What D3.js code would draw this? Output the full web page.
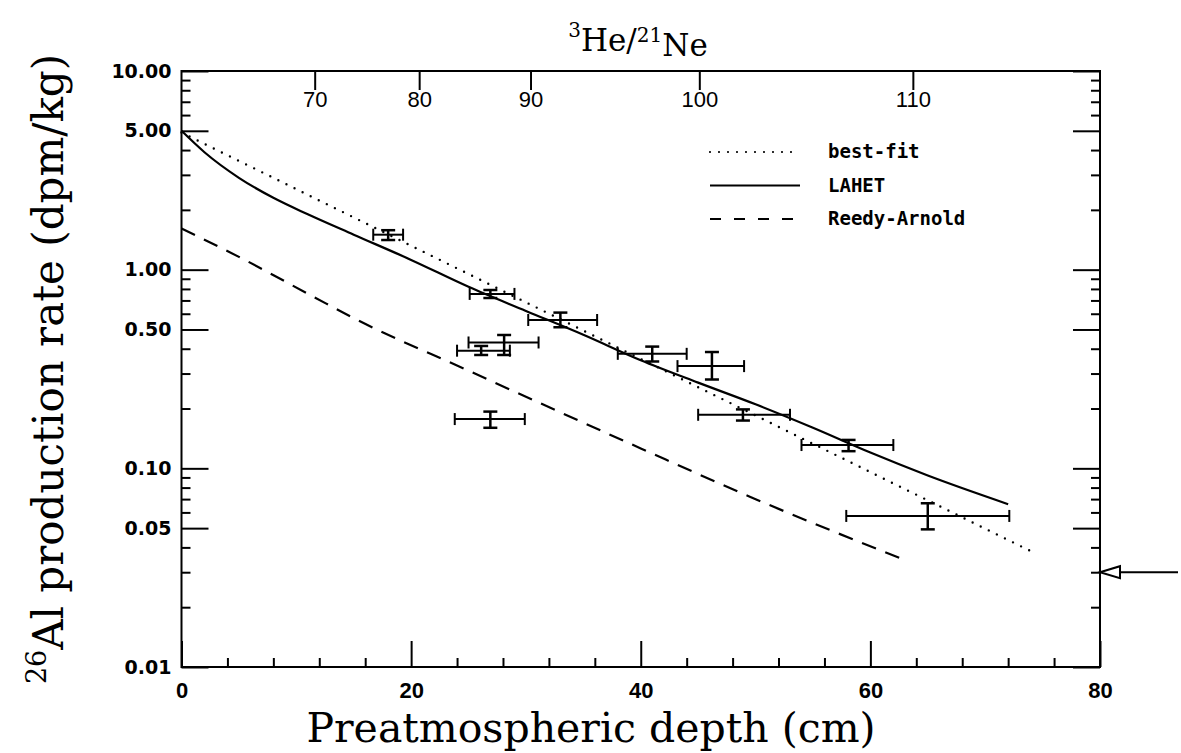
<!DOCTYPE html>
<html>
<head>
<meta charset="utf-8">
<script src="https://cdn.jsdelivr.net/npm/d3@7"></script>
<style>
	body { margin: 0; background: #fff; }
	.tick line { stroke: #000; stroke-width: 2; }
</style>
</head>
<body>
<div id="chart"></div>
<script>
// Measured samples (depth in cm, 26Al rate in dpm/kg)
const sampleDepth   = [18.0, 26.9, 33.0, 28.1, 26.1, 26.9, 41.0, 46.2, 48.9, 58.1, 65.0];
const sampleDepthLo = [16.7, 25.1, 30.2, 25.0, 24.0, 23.8, 38.0, 43.2, 45.0, 54.0, 57.9];
const sampleDepthHi = [19.3, 29.0, 36.2, 31.1, 28.6, 29.9, 44.0, 49.0, 53.0, 62.0, 72.1];
const sampleRate    = [1.50, 0.755, 0.558, 0.43, 0.391, 0.177, 0.377, 0.327, 0.186, 0.131, 0.0576];
const sampleRateLo  = [1.41, 0.72, 0.513, 0.372, 0.372, 0.160, 0.345, 0.28, 0.174, 0.122, 0.0493];
const sampleRateHi  = [1.58, 0.79, 0.608, 0.469, 0.413, 0.193, 0.41, 0.385, 0.198, 0.139, 0.0667];

// Model curves
const bestFitDepth = [0, 74.5];
const bestFitRate  = [4.9, 0.037];
const lahetDepth = [0, 2, 5, 8, 11, 15, 20, 25, 30, 35, 40, 45, 50, 55, 60, 65, 72];
const lahetRate  = [5.0, 3.9, 2.9, 2.3, 1.9, 1.5, 1.12, 0.82, 0.62, 0.47, 0.35, 0.27, 0.21, 0.16, 0.12, 0.092, 0.066];
const reedyDepth = [0, 5, 11.5, 15, 25, 40, 49.5, 63.3];
const reedyRate  = [1.61, 1.16, 0.73, 0.57, 0.31, 0.126, 0.072, 0.034];

// Axes
const depthTicks = [0, 20, 40, 60, 80];
const rateTicks = [0.01, 0.05, 0.1, 0.5, 1, 5, 10];
const heNeTicks = [70, 80, 90, 100, 110];
const heNeDepth = [11.6, 20.7, 30.4, 45.1, 63.7];
const arrowRate = 0.03;

const legendNames = ["best-fit", "LAHET", "Reedy-Arnold"];
const legendDash = ["0,9", null, "15,10"];

// Dimensions and margins
const W = 1181, H = 753;
const margin = {top: 71, right: 81, bottom: 86, left: 181.5};
const width = W - margin.left - margin.right;
const height = H - margin.top - margin.bottom;

const x = d3.scaleLinear().domain([0, 80]).range([0, width]);
const y = d3.scaleLog().domain([0.01, 10]).range([height, 0]);
const xTop = d3.scaleLinear().domain(heNeTicks).range(heNeDepth.map(d => x(d)));

const svg = d3.select("#chart").append("svg")
	.attr("width", W)
	.attr("height", H)
	.append("g")
	.attr("transform", "translate(" + margin.left + "," + margin.top + ")");

const numFont = "'DejaVu Sans', sans-serif";
const serif = "'DejaVu Serif', serif";

// Ticks
const minorRate = y.ticks().filter(d => !rateTicks.some(t => Math.abs(t - d) / t < 1e-6));
const minorDepth = d3.range(4, 80, 4).filter(d => d % 20 != 0);

function styleAxis(g) {
	g.select(".domain").remove();
	g.selectAll("text").style("font-family", numFont).attr("fill", "#000");
}

svg.append("g")
	.call(d3.axisLeft(y).tickValues(rateTicks).tickSizeInner(-27).tickSizeOuter(0)
		.tickPadding(10).tickFormat(d3.format(".2f")))
	.call(styleAxis)
	.selectAll("text").style("font-size", "19px").style("font-weight", "bold");
svg.append("g")
	.call(d3.axisLeft(y).tickValues(minorRate).tickSize(-9).tickFormat(""))
	.call(styleAxis);
svg.append("g")
	.attr("transform", "translate(" + width + ",0)")
	.call(d3.axisRight(y).tickValues(rateTicks).tickSize(-27).tickFormat(""))
	.call(styleAxis);
svg.append("g")
	.attr("transform", "translate(" + width + ",0)")
	.call(d3.axisRight(y).tickValues(minorRate).tickSize(-9).tickFormat(""))
	.call(styleAxis);

svg.append("g")
	.attr("transform", "translate(0," + height + ")")
	.call(d3.axisBottom(x).tickValues(depthTicks).tickSize(-26).tickPadding(15)
		.tickFormat(d3.format("d")))
	.call(styleAxis)
	.selectAll("text").style("font-size", "22px").style("font-weight", "bold")
	.style("font-family", "'Liberation Sans', sans-serif");
svg.append("g")
	.attr("transform", "translate(0," + height + ")")
	.call(d3.axisBottom(x).tickValues(minorDepth).tickSize(-9).tickFormat(""))
	.call(styleAxis);

// top axis: 3He/21Ne
svg.append("g")
	.call(d3.axisBottom(xTop).tickValues(heNeTicks).tickSize(19).tickPadding(1)
		.tickFormat(d3.format("d")))
	.call(styleAxis)
	.selectAll("text").style("font-size", "22px")
	.style("font-family", "'Liberation Sans', sans-serif");

// frame
svg.append("rect")
	.attr("width", width)
	.attr("height", height)
	.attr("fill", "none")
	.attr("stroke", "#000")
	.attr("stroke-width", 2);

// Curves
const line = d3.line()
	.x(d => x(d[0]))
	.y(d => y(d[1]));

const curves = [
	{depth: bestFitDepth, rate: bestFitRate, curve: d3.curveLinear},
	{depth: lahetDepth, rate: lahetRate, curve: d3.curveMonotoneX},
	{depth: reedyDepth, rate: reedyRate, curve: d3.curveMonotoneX}
];
curves.forEach((c, i) => {
	svg.append("path")
		.datum(d3.zip(c.depth, c.rate))
		.attr("fill", "none")
		.attr("stroke", "#000")
		.attr("stroke-width", i == 0 ? 2.4 : 2.2)
		.attr("stroke-linecap", i == 0 ? "round" : "butt")
		.attr("stroke-dasharray", legendDash[i])
		.attr("d", line.curve(c.curve));
});

// Error bars
const capH = 6, capW = 7;
sampleDepth.forEach((d, i) => {
	let g = svg.append("g")
		.attr("stroke", "#000")
		.attr("stroke-width", 2);
	let cy = y(sampleRate[i]), x0 = x(sampleDepthLo[i]), x1 = x(sampleDepthHi[i]);
	let cx = x(d), y0 = y(sampleRateLo[i]), y1 = y(sampleRateHi[i]);
	g.append("line").attr("x1", x0).attr("x2", x1).attr("y1", cy).attr("y2", cy);
	g.append("line").attr("x1", x0).attr("x2", x0).attr("y1", cy - capH).attr("y2", cy + capH);
	g.append("line").attr("x1", x1).attr("x2", x1).attr("y1", cy - capH).attr("y2", cy + capH);
	g.append("line").attr("x1", cx).attr("x2", cx).attr("y1", y0).attr("y2", y1).attr("stroke-width", 2.5);
	g.append("line").attr("x1", cx - capW).attr("x2", cx + capW).attr("y1", y0).attr("y2", y0).attr("stroke-width", 2.5);
	g.append("line").attr("x1", cx - capW).attr("x2", cx + capW).attr("y1", y1).attr("y2", y1).attr("stroke-width", 2.5);
});

// Legend
legendNames.forEach((name, i) => {
	let ly = 81 + i * 33.5;
	svg.append("line")
		.attr("x1", 708 - margin.left + 2)
		.attr("x2", 800 - margin.left)
		.attr("y1", ly)
		.attr("y2", ly)
		.attr("stroke", "#000")
		.attr("stroke-width", i == 0 ? 2.2 : 2)
		.attr("stroke-linecap", i == 0 ? "round" : "butt")
		.attr("stroke-dasharray", i == 2 ? "11,13" : legendDash[i]);
	svg.append("text")
		.attr("x", 828 - margin.left)
		.attr("y", ly + 6)
		.style("font-family", "'DejaVu Sans Mono', monospace")
		.style("font-weight", "bold")
		.style("font-size", "19px")
		.text(name);
});

// Arrow on the right axis
let ya = y(arrowRate);
svg.append("line")
	.attr("x1", width + 18)
	.attr("x2", width + 78)
	.attr("y1", ya)
	.attr("y2", ya)
	.attr("stroke", "#000")
	.attr("stroke-width", 2);
svg.append("path")
	.attr("d", "M" + width + "," + ya + "L" + (width + 20) + "," + (ya - 6) + "L" + (width + 20) + "," + (ya + 6) + "Z")
	.attr("fill", "#fff")
	.attr("stroke", "#000")
	.attr("stroke-width", 2);

// Titles
let topTitle = svg.append("text")
	.attr("x", 638 - margin.left)
	.attr("y", 46 - margin.top)
	.style("text-anchor", "middle")
	.style("font-family", serif)
	.style("font-size", "31px");
topTitle.append("tspan").attr("dy", "-0.45em").style("font-size", "20px").text("3");
topTitle.append("tspan").attr("dy", "0.45em").text("He/");
topTitle.append("tspan").attr("dy", "-0.45em").style("font-size", "20px").text("21");
topTitle.append("tspan").attr("dy", "0.45em").text("Ne");

svg.append("text")
	.attr("x", 591 - margin.left)
	.attr("y", 742 - margin.top)
	.style("text-anchor", "middle")
	.style("font-family", serif)
	.style("font-size", "41px")
	.text("Preatmospheric depth (cm)");

let ylab = svg.append("text")
	.attr("transform", "translate(" + (57 - margin.left) + "," + (369 - margin.top) + ") rotate(-90)")
	.style("text-anchor", "middle")
	.style("font-family", serif)
	.style("font-size", "42px");
ylab.append("tspan").attr("dy", "-0.42em").style("font-size", "27px").text("26");
ylab.append("tspan").attr("dy", "0.42em").text("Al production rate (dpm/kg)");
</script>
</body>
</html>
